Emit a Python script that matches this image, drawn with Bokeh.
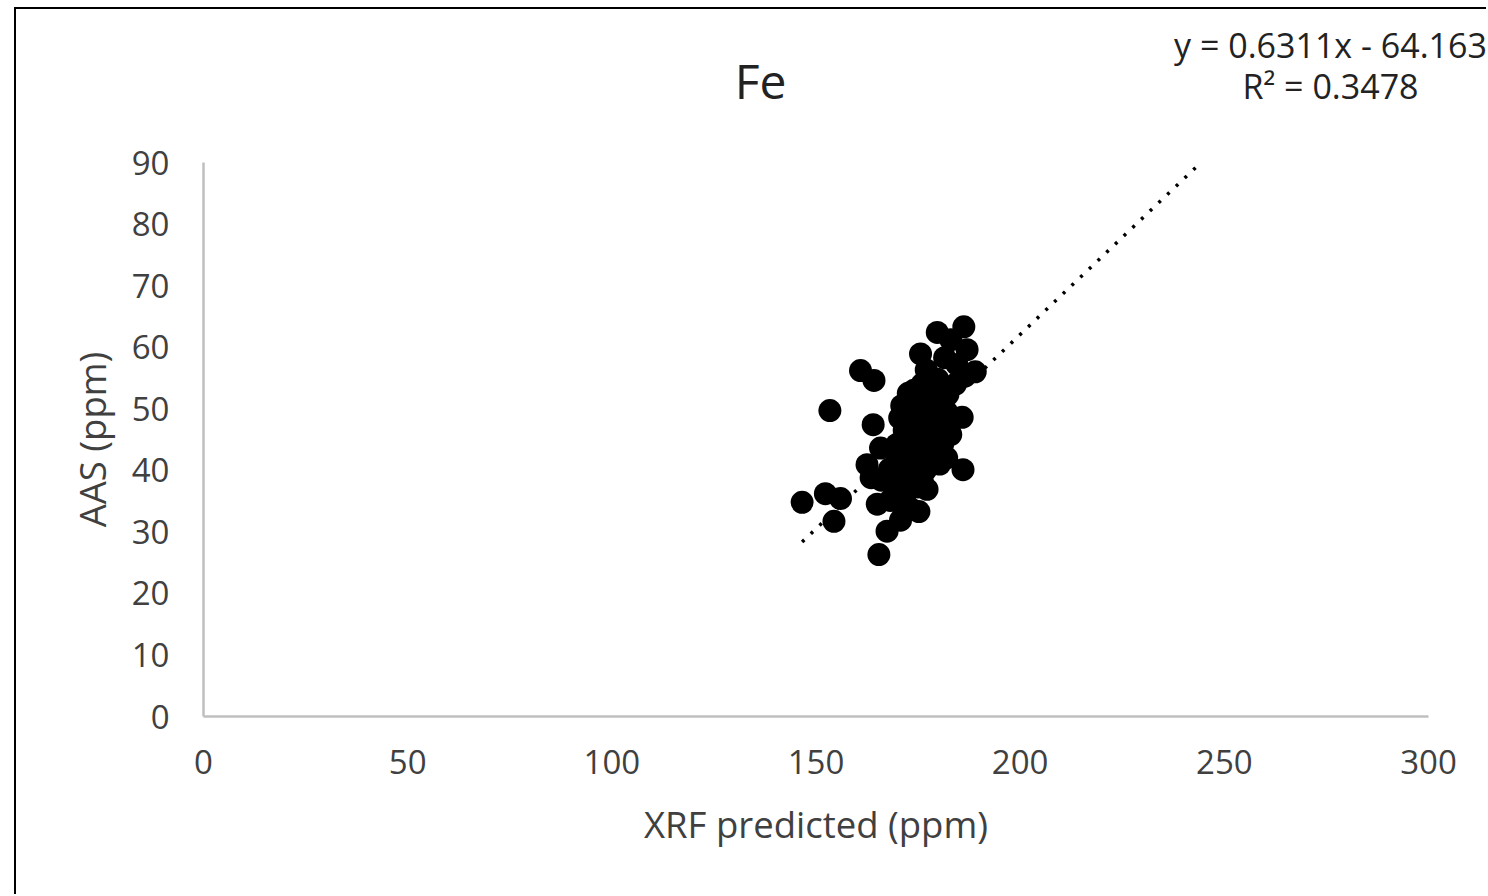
import numpy as np
from bokeh.plotting import figure
from bokeh.models import Range1d, FixedTicker
from bokeh.core.properties import value
from bokeh.embed import file_html
from bokeh.resources import INLINE

# ---- data ----
xrf = [146.6, 152.3, 156.0, 154.4, 153.4, 160.9, 164.2, 164.0, 165.4, 167.4,
       165.0, 170.7, 175.2, 177.2, 162.5, 165.8, 186.0, 185.8, 179.7, 186.2,
       187.0, 175.6, 189.0, 183.0, 181.5, 184.5, 177.0, 179.8, 184.2, 182.3,
       177.8, 186.5, 176.2, 179.0, 174.0, 177.0, 180.3, 182.0, 171.6, 174.8,
       178.2, 181.0, 183.0, 169.8, 172.8, 175.8, 179.0, 182.0, 168.0, 171.0,
       174.0, 177.0, 169.0, 172.0, 175.0, 166.0, 168.2, 171.2, 173.3, 163.5,
       170.5, 173.5, 176.0, 172.5, 176.5, 174.0, 178.0, 180.5, 175.0, 172.0,
       170.0, 176.0, 180.3, 173.0, 176.0, 178.0, 172.0, 175.0, 177.5, 174.5,
       171.0, 179.5, 181.5, 173.5, 177.0, 179.0, 174.0, 171.0, 172.6]
aas = [34.8, 36.2, 35.4, 31.7, 49.7, 56.2, 54.6, 47.4, 26.3, 30.1,
       34.5, 31.9, 33.3, 36.9, 40.9, 43.6, 40.1, 48.6, 62.4, 63.3,
       59.6, 58.9, 56.0, 61.2, 58.3, 57.2, 56.3, 54.8, 54.0, 52.3,
       53.0, 55.3, 50.6, 50.2, 48.5, 47.6, 47.2, 49.5, 46.5, 45.2,
       44.6, 44.2, 45.8, 44.2, 43.4, 42.3, 41.3, 42.0, 40.2, 39.4,
       39.2, 40.2, 37.3, 36.3, 37.3, 38.4, 35.1, 34.2, 33.7, 38.8,
       48.5, 51.5, 54.0, 41.0, 45.0, 44.0, 48.0, 52.0, 47.0, 48.0,
       42.0, 38.5, 41.0, 47.0, 49.0, 46.0, 44.5, 43.5, 42.5, 41.0,
       41.5, 45.5, 46.5, 50.0, 51.5, 53.0, 53.0, 50.5, 52.5]

slope = 0.6311
intercept = -64.163
r_squared = 0.3478
forward_forecast = 55

x_ticks = [0, 50, 100, 150, 200, 250, 300]
y_ticks = [0, 10, 20, 30, 40, 50, 60, 70, 80, 90]

title_text = "Fe"
x_title = "XRF predicted (ppm)"
y_title = "AAS (ppm)"
eq_text = "y = 0.6311x - 64.163"
r2_text = "R² = 0.3478"

FONT = "Open Sans"
TXT = "#404040"

W, H = 1472, 887
HEAD_H = 140

# ---- main scatter plot ----
p = figure(width=W, height=H, output_backend="svg", toolbar_location=None,
           x_range=Range1d(x_ticks[0], x_ticks[-1]),
           y_range=Range1d(y_ticks[0], y_ticks[-1]),
           min_border_left=187, min_border_right=60,
           min_border_top=153, min_border_bottom=180,
           margin=(7, 0, 0, 14),
           styles={"border-left": "2px solid #000", "border-top": "2px solid #000"})
p.outline_line_color = None
p.background_fill_color = "white"
p.border_fill_color = "white"
p.grid.visible = False

for ax in (p.xaxis[0], p.yaxis[0]):
    ax.axis_line_color = "#bfbfbf"
    ax.axis_line_width = 2.5
    ax.major_tick_line_color = None
    ax.minor_tick_line_color = None
    ax.major_label_text_font = FONT
    ax.major_label_text_font_size = "33px"
    ax.major_label_text_color = TXT
    ax.axis_label_text_font = FONT
    ax.axis_label_text_font_size = "36.5px"
    ax.axis_label_text_font_style = "normal"
    ax.axis_label_text_color = TXT

p.xaxis[0].ticker = FixedTicker(ticks=x_ticks)
p.yaxis[0].ticker = FixedTicker(ticks=y_ticks)
p.xaxis[0].axis_label = x_title
p.yaxis[0].axis_label = y_title
p.xaxis[0].major_label_standoff = 27
p.yaxis[0].major_label_standoff = 28
p.xaxis[0].axis_label_standoff = 22
p.yaxis[0].axis_label_standoff = 12

p.scatter(xrf, aas, size=23, fill_color="black", line_color="black", line_width=0)

tx = np.array([min(xrf), max(xrf) + forward_forecast])
ty = slope * tx + intercept
p.line(tx, ty, line_color="black", line_width=3.5, line_dash="3 9")

# ---- header strip (title + trendline equation) overlaid at the top, pixel coords ----
head = figure(width=W, height=HEAD_H, output_backend="svg", toolbar_location=None,
              x_range=Range1d(0, W), y_range=Range1d(HEAD_H, 0),
              x_axis_location=None, y_axis_location=None,
              min_border=0, min_border_left=0, min_border_right=0,
              min_border_top=0, min_border_bottom=0,
              styles={"position": "absolute", "left": "16px", "top": "9px"})
head.outline_line_color = None
head.grid.visible = False
head.background_fill_color = None
head.border_fill_color = None
head.text(x=[744], y=[71], text=[title_text], text_font=value(FONT),
          text_font_size="48px", text_color="#222222",
          text_align="center", text_baseline="middle")
head.text(x=[1314, 1314], y=[35, 76], text=[eq_text, r2_text], text_font=value(FONT),
          text_font_size="34px", text_color="#222222",
          text_align="center", text_baseline="middle")

open("out.html", "w").write(file_html([p, head], INLINE))
